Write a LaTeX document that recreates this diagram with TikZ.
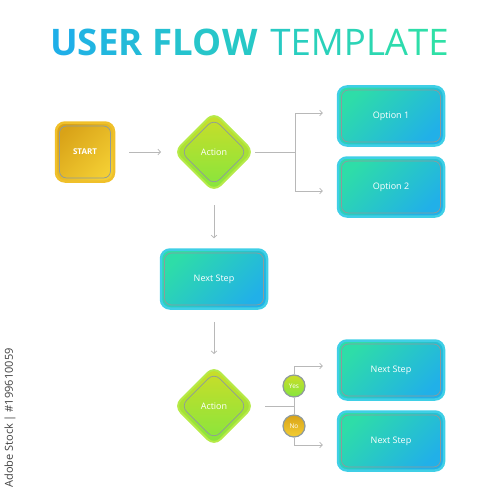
\documentclass[tikz,border=0pt]{standalone}
\usepackage{fontspec}
\setmainfont{Open Sans}
\usetikzlibrary{shapes.geometric,arrows.meta}
\definecolor{tealA}{HTML}{2EDDA8}
\definecolor{tealB}{HTML}{21B0E8}
\definecolor{tealEdge}{HTML}{3FCFE6}
\definecolor{innerline}{HTML}{8E9A9C}
\definecolor{goldA}{HTML}{D9A318}
\definecolor{goldB}{HTML}{F3CE33}
\definecolor{goldEdge}{HTML}{F0C02A}
\definecolor{greenA}{HTML}{CCDD28}
\definecolor{greenB}{HTML}{84E63E}
\definecolor{greenEdge}{HTML}{B6EA48}
\definecolor{linegray}{HTML}{B8B8B8}
\definecolor{titleA}{HTML}{1FAEEA}
\definecolor{titleB}{HTML}{2FE0A6}
\newcommand\tlc[2]{\textcolor{titleB!#1!titleA}{#2}}
\tikzset{
  flowbox/.style={rectangle, rounded corners=9pt, minimum width=106pt, minimum height=59pt,
    draw=tealEdge, line width=2.5pt, top color=tealA, bottom color=tealB, shading angle=45,
    text=white, font=\fontsize{9}{10}\selectfont,
    path picture={\draw[innerline, line width=0.7pt, rounded corners=7pt]
      ([shift={(3.5pt,3.5pt)}]path picture bounding box.south west) rectangle
      ([shift={(-3.5pt,-3.5pt)}]path picture bounding box.north east);}},
  startbox/.style={flowbox, minimum width=58pt, draw=goldEdge, top color=goldA, bottom color=goldB,
    shading angle=45, font=\bfseries\fontsize{8}{9}\selectfont},
  decision/.style={diamond, aspect=1, minimum width=80pt, minimum height=80pt, inner sep=0pt,
    rounded corners=9pt, draw=greenEdge, line width=2pt, top color=greenA, bottom color=greenB,
    text=white, font=\fontsize{9}{10}\selectfont,
    path picture={\draw[innerline, line width=0.7pt, rounded corners=8pt]
      ([yshift=-6.5pt]path picture bounding box.north) -- ([xshift=-6.5pt]path picture bounding box.east) --
      ([yshift=6.5pt]path picture bounding box.south) -- ([xshift=6.5pt]path picture bounding box.west) -- cycle;}},
  answer/.style={circle, minimum size=22pt, inner sep=0pt, draw=innerline, line width=1.2pt,
    text=white, font=\fontsize{6.5}{7}\selectfont},
  link/.style={draw=linegray, line width=0.8pt},
  conn/.style={link, -{Straight Barb[length=2.5pt,width=5.5pt]}},
}
\begin{document}
\begin{tikzpicture}[x=1pt,y=-1pt]
\useasboundingbox (0,0) rectangle (500,500);
% title
\node[inner sep=0pt, font=\fontsize{36.6}{38}\selectfont] (title) at (249.5,42)
  {\bfseries\tlc{3}{U}\tlc{11}{S}\tlc{18}{E}\tlc{25}{R} \tlc{35}{F}\tlc{41}{L}\tlc{47}{O}\tlc{52}{W}\mdseries\hspace{0.35em}%
   \tlc{57}{T}\tlc{63}{E}\tlc{70}{M}\tlc{77}{P}\tlc{83}{L}\tlc{90}{A}\tlc{95}{T}\tlc{100}{E}};
% nodes
\node[startbox] (start) at (85,152) {START};
\node[decision] (a1) at (214,152) {Action};
\node[flowbox] (o1) at (391,116) {Option 1};
\node[flowbox] (o2) at (391,187) {Option 2};
\node[flowbox] (n1) at (214,279) {Next Step};
\node[decision] (a2) at (214,406) {Action};
\node[flowbox] (n2) at (391,370) {Next Step};
\node[flowbox] (n3) at (391,441) {Next Step};
\node[answer, top color=greenA, bottom color=greenB] (yes) at (294,386) {Yes};
\node[answer, top color=goldA, bottom color=goldB] (no) at (294,426) {No};
% connectors
\draw[conn, shorten <=14pt, shorten >=12pt] (start) -- (a1);
\coordinate (b1) at (295,152);
\draw[link] (a1.east) -- (b1);
\draw[conn, shorten >=14pt] (b1) |- ([yshift=3pt]o1.west);
\draw[conn, shorten >=14pt] (b1) |- ([yshift=-4pt]o2.west);
\draw[conn, shorten <=12pt, shorten >=10pt] (a1) -- (n1);
\draw[conn, shorten <=12pt, shorten >=11pt] (n1) -- (a2);
\coordinate (b2) at (294,406);
\draw[link, shorten <=10pt] (a2.east) -- (b2);
\draw[link] (b2) -- (yes);
\draw[link] (b2) -- (no);
\draw[conn, shorten >=14pt] (yes.north) |- ([yshift=4pt]n2.west);
\draw[conn, shorten >=14pt] (no.south) |- ([yshift=-4pt]n3.west);
% side text
\node[rotate=90, inner sep=0pt, text=black!75, font=\fontsize{11}{12}\selectfont] (wm) at (10,418) {Adobe Stock | \#199610059};
\end{tikzpicture}
\end{document}
